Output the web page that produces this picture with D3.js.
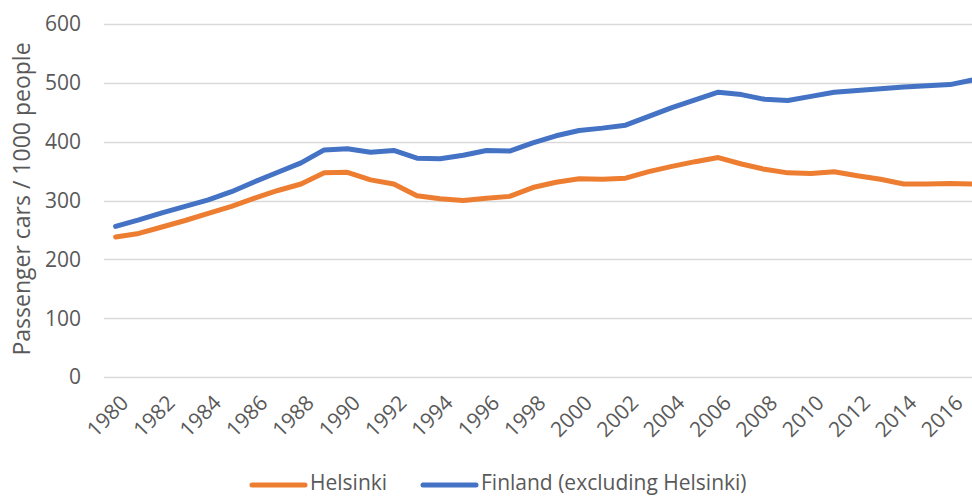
<!doctype html>
<html lang="en">
<head>
<meta charset="UTF-8">
<title>Passenger cars per 1000 people</title>
<script src="https://cdn.jsdelivr.net/npm/d3@7"></script>
<style>
  body { margin: 0; background: #fff; }
  text { font-family: "Open Sans", "Noto Sans", sans-serif; fill: #595959; }
</style>
</head>
<body>
<div id="chartDiv"></div>
<script>
// data
const years = d3.range(1980, 2018)
const helsinki = [238, 244, 255, 266, 278, 290, 304, 317, 328, 347, 348, 335, 328, 308, 303, 300,
                  304, 307, 322, 331, 337, 336, 338, 349, 358, 366, 373, 362, 353, 347, 346, 349,
                  342, 336, 328, 328, 329, 328]
const finland = [256, 267, 279, 290, 301, 315, 332, 348, 364, 386, 388, 382, 385, 372, 371, 377,
                 385, 384, 398, 410, 419, 423, 428, 443, 458, 471, 484, 480, 472, 470, 477, 484,
                 487, 490, 493, 495, 497, 505]
const yTicks = [0, 100, 200, 300, 400, 500, 600]
const seriesNames = ["Helsinki", "Finland (excluding Helsinki)"]
const colors = ["#ED7D31", "#4472C4"]

const width = 972, height = 497
const plotLeft = 104, plotTop = 24, plotBottom = 377
const step = 23.18

const svg = d3.select('#chartDiv').append('svg')
    .attr('width', width)
    .attr('height', height)

// x: one band per year, line points at band centre
let x = d3.scaleBand()
    .domain(years)
    .range([plotLeft, plotLeft + years.length * step])
    .padding(0)

let y = d3.scaleLinear()
    .domain([0, 600])
    .range([plotBottom, plotTop])

// gridlines
svg.append('g')
    .selectAll('line')
    .data(yTicks)
    .join('line')
    .attr('x1', plotLeft)
    .attr('x2', plotLeft + years.length * step)
    .attr('y1', d => Math.round(y(d)) + 0.5)
    .attr('y2', d => Math.round(y(d)) + 0.5)
    .attr('stroke', '#d9d9d9')
    .attr('stroke-width', 1.3)

// y tick labels
svg.append('g')
    .selectAll('text')
    .data(yTicks)
    .join('text')
    .attr('x', 81)
    .attr('y', d => y(d))
    .attr('dy', '0.35em')
    .attr('text-anchor', 'end')
    .style('font-size', '21px')
    .text(d => d)

// x tick labels, every second year, rotated
svg.append('g')
    .selectAll('text')
    .data(years.filter(d => d % 2 === 0))
    .join('text')
    .attr('transform', d => `translate(${x(d) + x.bandwidth() / 2 + 9},${399}) rotate(-45)`)
    .attr('text-anchor', 'end')
    .attr('dy', '0.35em')
    .style('font-size', '21px')
    .text(d => d)

// y axis title
svg.append('text')
    .attr('transform', `translate(30,${199}) rotate(-90)`)
    .attr('text-anchor', 'middle')
    .style('font-size', '23px')
    .text('Passenger cars / 1000 people')

// lines
let line = d3.line()
    .x((d, i) => x(years[i]) + x.bandwidth() / 2)
    .y(d => y(d))

;[helsinki, finland].forEach(function(s, i) {
    svg.append('path')
        .datum(s)
        .attr('d', line)
        .attr('fill', 'none')
        .attr('stroke', colors[i])
        .attr('stroke-width', 5)
        .attr('stroke-linejoin', 'round')
        .attr('stroke-linecap', 'round')
})

// legend
const legendX = [252, 423]
let legend = svg.append('g')
seriesNames.forEach(function(name, i) {
    legend.append('line')
        .attr('x1', legendX[i])
        .attr('x2', legendX[i] + 53)
        .attr('y1', 485)
        .attr('y2', 485)
        .attr('stroke', colors[i])
        .attr('stroke-width', 5)
        .attr('stroke-linecap', 'round')
    legend.append('text')
        .attr('x', legendX[i] + 58)
        .attr('y', 483)
        .attr('dy', '0.35em')
        .style('font-size', '21px')
        .text(name)
})
</script>
</body>
</html>
